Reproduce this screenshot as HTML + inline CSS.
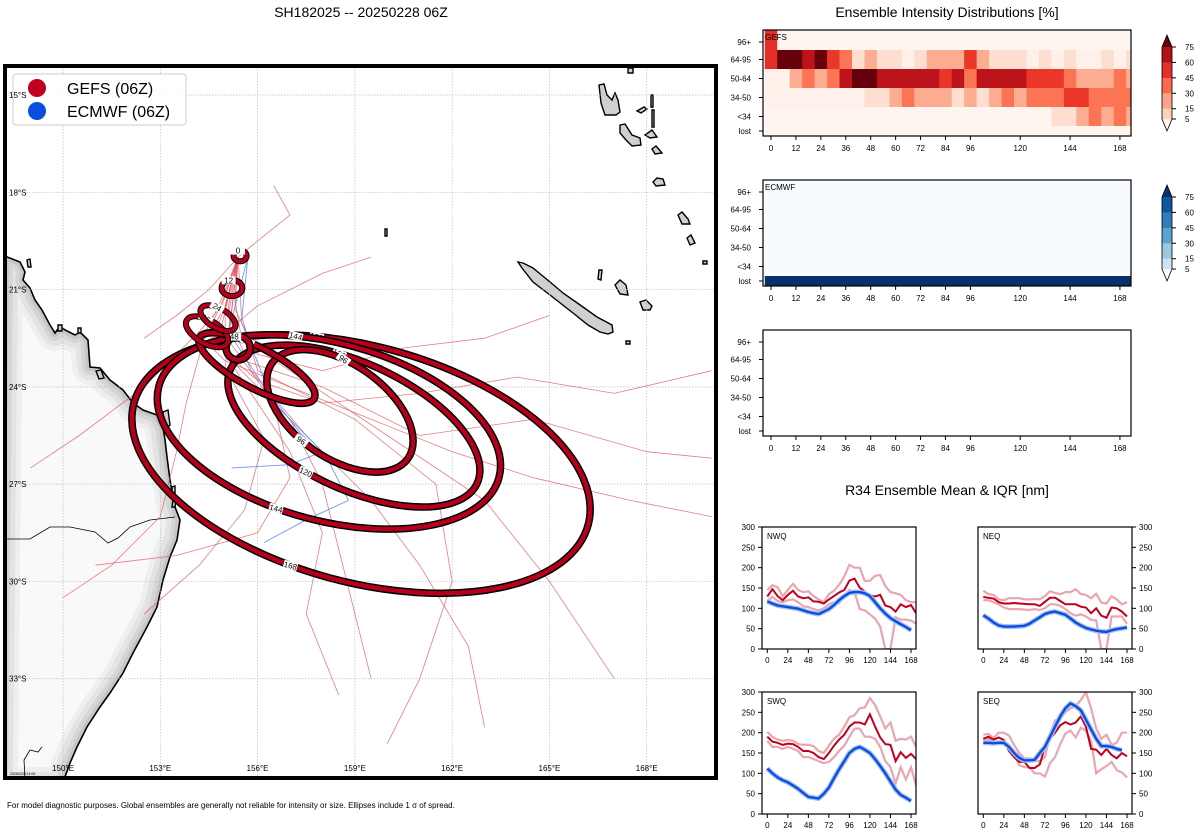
<!DOCTYPE html>
<html><head><meta charset="utf-8">
<style>
html,body{margin:0;padding:0;background:#fff;width:1200px;height:840px;overflow:hidden}
svg{display:block;font-family:"Liberation Sans","DejaVu Sans",sans-serif}
</style></head>
<body>
<svg id="fig" xmlns="http://www.w3.org/2000/svg" width="1200" height="840" viewBox="0 0 1200 840">
<text x="361" y="17" font-size="14" text-anchor="middle">SH182025 -- 20250228 06Z</text>
<text x="947" y="17" font-size="14" text-anchor="middle">Ensemble Intensity Distributions [%]</text>
<text x="947" y="495" font-size="14" text-anchor="middle">R34 Ensemble Mean &amp; IQR [nm]</text>
<text x="7" y="808" font-size="8">For model diagnostic purposes. Global ensembles are generally not reliable for intensity or size. Ellipses include 1 σ of spread.</text>
<g id="map"></g>
<g id="heat"></g>
<g id="r34"></g>
</svg>
<script>
// ---------------- DATA ----------------
const ellipseHours = [0,12,24,36,48,72,96,120,144,168];
const ellipseLon = [155.46,155.21,154.78,154.44,155.4,155.98,158.54,158.97,158.2,159.19];
const ellipseLat = [19.96,20.95,21.88,22.3,22.8,23.42,24.74,25.21,25.39,26.38];
const ellipseA = [0.2,0.32,0.6,0.72,0.37,2.0,2.56,4.19,5.43,7.25];
const ellipseB = [0.17,0.25,0.3,0.36,0.37,0.62,1.45,1.94,2.74,3.64];
const ellipseRot = [0,0,30,30,0,28,35,25,15,15];

const gefsTrackLon = [
 [155.4,154.8,154.3,155,157,159.5,162,164.5,167.5,170],
 [155.4,155,154.5,155.5,157,158,158.5,159,159.5],
 [155.4,155,154.6,156,158,161,164,167,170],
 [155.4,154.9,154.2,153.5,152.5,150.5,149],
 [155.4,155.1,155.8,157.5,159.5,161,162.5,163],
 [155.4,155.3,156,158,160.5,163,165],
 [155.4,154.9,154.3,153.8,153.5,153,151.5,150],
 [155.4,155.2,155,157,158,157.5,158.5],
 [155.4,155.3,155.5,157,160,163,165,167],
 [155.4,156,157,156.5],
 [155.4,154.5,153.5,152.5],
 [155.4,155.1,155.2,156.5,157,156,153.5,151],
 [155.4,155,155,158,161,164.5,168,170],
 [155.4,155.5,156,159,161.5,162,161,160],
 [155.4,154.8,156,158,159.5],
 [155.4,155.2,155,156.2,155.6,154.2,152.5]
];
const gefsTrackLat = [
 [20,21.5,22.5,23.2,24,25,26,26.8,27.5,28],
 [20,21.5,22.4,23.5,25,27,29,31,33],
 [20,21.5,22.6,23.8,24.5,24.2,23.7,24.2,23.5],
 [20,21.5,22.3,23,24,25.5,26.5],
 [20,21.8,23.5,25.5,27.5,29.5,32,34.5],
 [20,21.6,23,23.5,22.8,22.5,21.8],
 [20,21.4,22.7,24.5,26,28,29.5,30.5],
 [20,21.6,23,26,28.5,31,33.5],
 [20,21.3,22.5,23.5,25.5,27.5,30,33],
 [20,19.5,18.7,17.8],
 [20,21,21.8,22.5],
 [20,21.5,22.7,24.5,26.8,28.5,29.2,29.5],
 [20,21.6,23,24,25.5,25,26,26.2],
 [20,21.8,23.5,25,27,30,33,35],
 [20,22.5,21.5,20.5,20],
 [20,21.7,23.4,25.6,27.8,29.5,31]
];
const ecmwfTrackLon = [[155.7,155.1,156.2,157.3,158.2,158.8,157.5,156.2],[155.7,155.5,156.5,158,158.5],[155.2,157,158]];
const ecmwfTrackLat = [[20,22.3,24,25.4,26.3,27.5,28.1,28.8],[20,22,24.5,26,26.5],[26.5,26.4,26]];

const heatHours = [0,6,12,18,24,30,36,42,48,54,60,66,72,78,84,90,96,102,108,114,120,126,132,138,144,150,156,162,168,174];
const intensityCats = ["96+","64-95","50-64","34-50","<34","lost"];
const gefs96 = [50,0,0,0,0,0,0,0,0,0,0,0,0,0,0,0,0,0,0,0,0,0,0,0,0,0,0,0,0,0];
const gefs64 = [50,75,75,60,75,48,35,10,22,10,10,2,10,22,22,22,48,22,10,10,10,2,10,2,10,2,2,10,2,10];
const gefs50 = [2,2,22,35,22,35,60,75,75,60,60,60,60,60,48,60,35,60,60,60,60,48,48,48,35,22,22,22,35,22];
const gefs34 = [2,2,2,2,2,2,2,2,10,10,22,35,22,22,22,10,22,10,22,35,22,35,35,35,48,48,35,35,35,35];
const gefsLt34 = [0,0,0,0,0,0,0,0,0,0,0,0,0,0,0,0,0,0,0,0,0,0,0,10,10,22,35,22,35,22];
const gefsLost = [0,0,0,0,0,0,0,0,0,0,0,0,0,0,0,0,0,0,0,0,0,0,0,0,0,0,0,0,0,0];
const ecmwfLost = [100,100,100,100,100,100,100,100,100,100,100,100,100,100,100,100,100,100,100,100,100,100,100,100,100,100,100,100,100,100];
const heatTicks = [0,12,24,36,48,60,72,84,96,120,144,168];
const cbTicks = [75,60,45,30,15,5];

const r34Ticks = [0,24,48,72,96,120,144,168];
const r34YTicks = [0,50,100,150,200,250,300];
const nwqMean = [129,147,130,120,133,143,129,125,127,117,116,112,122,130,139,145,168,173,151,141,132,129,133,107,103,92,110,103,108,88];
const nwqHi = [145,157,152,130,145,160,145,140,142,130,122,115,135,143,158,178,207,200,200,167,168,180,182,155,140,137,133,120,115,115];
const nwqLo = [118,128,118,115,120,122,115,105,103,98,95,100,110,115,113,130,145,140,98,95,85,75,55,0,0,78,72,72,70,62];
const nwqEc = [117,112,107,105,103,101,99,95,91,88,86,92,98,108,120,130,138,140,140,137,130,115,100,87,76,68,61,54,46];
const neqMean = [128,126,124,115,112,112,113,112,111,110,110,106,116,126,126,118,110,110,110,104,102,88,100,82,77,102,100,92,80];
const neqHi = [143,135,133,122,120,125,125,125,122,122,123,122,130,142,138,135,140,140,147,135,133,125,136,114,112,130,122,110,115];
const neqLo = [120,120,115,110,102,98,98,98,97,96,98,96,100,110,110,106,98,88,82,85,80,72,70,0,0,80,80,80,62];
const neqEc = [83,75,65,58,55,55,55,56,57,62,70,78,86,90,92,88,84,75,65,58,52,48,45,43,42,46,49,51,53];
const swqMean = [190,178,175,170,173,172,165,155,155,150,140,135,150,168,183,195,215,225,225,220,245,215,188,172,170,130,152,138,148,135];
const swqHi = [202,190,183,180,182,180,172,170,170,167,155,150,168,185,195,215,238,243,260,262,285,268,240,210,225,180,185,183,190,165];
const swqLo = [180,165,165,160,165,160,155,140,140,135,130,125,128,140,155,168,190,210,210,190,190,185,165,130,115,75,115,85,115,70];
const swqEc = [112,100,90,83,78,70,62,52,42,40,38,50,65,88,110,130,150,160,165,158,150,135,118,100,80,60,47,40,32];
const seqMean = [185,190,183,188,182,155,140,128,128,113,113,122,165,185,200,218,226,220,225,240,215,160,158,145,160,145,137,150,142];
const seqHi = [195,197,187,200,200,193,170,150,137,137,130,130,140,195,230,235,250,260,265,280,300,260,210,185,195,170,175,200,200];
const seqLo = [180,185,175,175,180,170,150,120,115,115,100,100,92,125,140,172,198,205,188,212,205,180,100,110,118,128,108,102,90];
const seqEc = [175,175,174,175,175,165,150,138,132,132,133,150,165,190,215,240,260,272,265,255,232,208,185,167,167,165,160,157];

// ---------------- HELPERS ----------------
const NS="http://www.w3.org/2000/svg";
function mk(tag,attrs,parent){const e=document.createElementNS(NS,tag);for(const k in attrs)e.setAttribute(k,attrs[k]);if(parent)parent.appendChild(e);return e;}
function txt(s,attrs,parent){const e=mk('text',attrs,parent);e.textContent=s;return e;}

// ---------------- MAP ----------------
const map=document.getElementById('map');
const MX0=5,MY0=66,MX1=716,MY1=778;
const lonX=lon=>63+(lon-150)*32.43;
const latY=lat=>95+(lat-15)*32.43;
const degPx=32.43;
const defs=mk('defs',{},map);
const cp=mk('clipPath',{id:'mapclip'},defs);
mk('rect',{x:MX0,y:MY0,width:MX1-MX0,height:MY1-MY0},cp);
const landD="M5,255 L7,257 L20,262 L25,272 L23,280 L30,288 L35,300 L42,310 L50,325 L55,333 L60,326 L65,330 L75,335 L80,332 L88,340 L90,367 L100,368 L110,380 L123,390 L133,403 L143,410 L157,415 L163,427 L165,440 L167,457 L170,480 L175,507 L180,520 L177,540 L170,557 L163,580 L157,607 L147,627 L133,653 L123,673 L110,693 L100,707 L87,727 L77,747 L70,763 L62,785 L0,785 Z";
const lc=mk('clipPath',{id:'landclip'},defs);
mk('path',{d:landD},lc);
const mg=mk('g',{'clip-path':'url(#mapclip)'},map);
mk('rect',{x:MX0,y:MY0,width:MX1-MX0,height:MY1-MY0,fill:'#fff'},mg);
const land=mk('g',{'clip-path':'url(#landclip)'},mg);


mk('path',{d:landD,fill:'#f9f9f9'},land);
[[36,'#efefef'],[26,'#e3e3e3'],[16,'#d5d5d5'],[8,'#c6c6c6']].forEach(([w,c])=>mk('path',{d:landD,fill:'none',stroke:c,'stroke-width':w,'stroke-linejoin':'round'},land));
mk('path',{d:landD,fill:'none',stroke:'#000','stroke-width':1.6},mg);
mk('path',{d:"M5,539 L30,539 L50,527 L70,527 L95,532 L108,543 L118,538 L130,527 L150,520 L175,517",fill:'none',stroke:'#000','stroke-width':0.8},mg);
mk('path',{d:"M25,778 L24,760 L30,750 L38,752 L42,747",fill:'none',stroke:'#000','stroke-width':0.8},mg);
// islands
const islands=["M599,85 L604,84 L607,95 L612,100 L615,93 L618,100 L620,112 L616,115 L605,115 L601,103 Z",
"M620,125 L625,124 L632,135 L640,138 L641,145 L632,146 L626,140 L620,133 Z",
"M637,111 L644,107 L647,109 L641,113 Z","M651,95 L653,95 L653,107 L651,107 Z","M652,110 L654,110 L654,127 L652,127 Z",
"M645,135 L652,130 L657,137 L650,138 Z","M652,149 L656,146 L662,153 L655,154 Z","M653,182 L657,178 L663,179 L665,185 L656,186 Z",
"M678,215 L682,212 L688,219 L690,224 L682,224 Z","M687,238 L691,235 L695,243 L690,245 Z","M628,68 L633,68 L633,73 L628,73 Z",
"M518,262 L523,263 L533,268 L550,282 L563,293 L583,307 L597,317 L612,325 L613,332 L608,334 L600,332 L588,325 L573,313 L550,295 L533,282 L522,268 Z",
"M599,270 L602,270 L601,280 L598,279 Z","M615,285 L620,280 L626,285 L628,295 L620,294 Z","M640,302 L646,300 L652,306 L650,310 L643,310 Z",
"M626,341 L630,341 L630,344 L626,344 Z","M703,261 L707,261 L707,264 L703,264 Z","M385,229 L387,229 L387,236 L385,236 Z",
"M27,260 L30,259 L31,267 L28,267 Z","M58,325 L62,325 L62,331 L58,331 Z","M78,328 L81,328 L81,333 L78,333 Z",
"M96,371 L101,370 L104,378 L99,379 Z","M163,412 L168,410 L170,425 L164,431 Z","M172,487 L175,486 L175,497 L172,497 Z","M173,500 L176,499 L175,507 L172,507 Z"];
islands.forEach(d=>{const p=mk('path',{d,fill:'#d0d0d0',stroke:'#000','stroke-width':1.4},mg);

});
// grid
const gridLons=[150,153,156,159,162,165,168];
const gridLats=[15,18,21,24,27,30,33];
gridLons.forEach(l=>mk('line',{x1:lonX(l),x2:lonX(l),y1:MY0,y2:MY1,stroke:'#bbb','stroke-width':0.7,'stroke-dasharray':'1.5,1.5'},mg));
gridLats.forEach(l=>mk('line',{x1:MX0,x2:MX1,y1:latY(l),y2:latY(l),stroke:'#bbb','stroke-width':0.7,'stroke-dasharray':'1.5,1.5'},mg));
// tracks
const lineStr=(lons,lats)=>lons.map((l,i)=>lonX(l).toFixed(1)+','+latY(lats[i]).toFixed(1)).join(' ');
gefsTrackLon.forEach((lons,i)=>{const p=mk('polyline',{points:lineStr(lons,gefsTrackLat[i]),fill:'none',stroke:'#e0505f','stroke-width':0.8,'stroke-opacity':0.75},mg);

});
ecmwfTrackLon.forEach((lons,i)=>{const p=mk('polyline',{points:lineStr(lons,ecmwfTrackLat[i]),fill:'none',stroke:'#5a86ee','stroke-width':0.9,'stroke-opacity':0.85},mg);

});
// ellipses (draw largest first)
for(let i=ellipseHours.length-1;i>=0;i--){
  const cx=lonX(ellipseLon[i]),cy=latY(ellipseLat[i]),a=ellipseA[i]*degPx,b=ellipseB[i]*degPx;
  const g=mk('g',{transform:`rotate(${ellipseRot[i]} ${cx} ${cy})`},mg);
  
  
  const big=ellipseHours[i]>=48;
  mk('ellipse',{cx,cy,rx:a,ry:b,fill:'none',stroke:'#000','stroke-width':big?7.5:6},g);
  mk('ellipse',{cx,cy,rx:a,ry:b,fill:'none',stroke:'#b5001c','stroke-width':big?4.5:4},g);
  const pts = ellipseHours[i]>=96 ? [-1.9, 1.75] : [-1.9];
  pts.forEach(t=>{
    const lx=cx+a*Math.cos(t), ly=cy+b*Math.sin(t);
    const tg=mk('g',{transform:`translate(${lx} ${ly})`},g);
    mk('rect',{x:-7,y:-4,width:14,height:8,fill:'#fff'},tg);
    const tt=txt(String(ellipseHours[i]),{x:0,y:3,'font-size':8,'text-anchor':'middle'},tg);
    
    
  });
}
txt('20250228 14:06',{x:10,y:775,'font-size':3.5},mg);
mk('rect',{x:MX0,y:MY0,width:MX1-MX0,height:MY1-MY0,fill:'none',stroke:'#000','stroke-width':4},map);
// legend
const lg=mk('g',{},map);


mk('rect',{x:13,y:74,width:173,height:51,rx:3,fill:'#fff','fill-opacity':0.85,stroke:'#ccc'},lg);
const le1=mk('circle',{cx:37,cy:88,r:9,fill:'#c0001c'},lg);


txt('GEFS (06Z)',{x:67,y:94,'font-size':16},lg);
const le2=mk('circle',{cx:37,cy:111,r:9,fill:'#0a4ee0'},lg);


txt('ECMWF (06Z)',{x:67,y:117,'font-size':16},lg);
// axis labels (on top)
gridLats.forEach(l=>{const t=txt(l+'°S',{x:9,y:latY(l)+3,'font-size':8},map);

});
gridLons.forEach(l=>{const t=txt(l+'°E',{x:lonX(l),y:771,'font-size':8,'text-anchor':'middle'},map);

});

// ---------------- HEATMAPS ----------------
const heat=document.getElementById('heat');
const HX0=763,HX1=1131;
const hX=t=>771+t*2.077;
const rowEdges=[0,20,39,58,77,96,106];
const redStops=['#fff5f0','#fee0d2','#fcbba1','#fc9272','#fb6a4a','#ef3b2c','#cb181d','#a50f15','#67000d'];
function hex2rgb(h){return [1,3,5].map(i=>parseInt(h.substr(i,2),16));}
function reds(v){let f=Math.max(0,Math.min(1,v/75))*8;const i=Math.min(7,Math.floor(f)),r=f-i;const a=hex2rgb(redStops[i]),b=hex2rgb(redStops[i+1]);return 'rgb('+a.map((c,k)=>Math.round(c+(b[k]-c)*r)).join(',')+')';}
function blues(v){return v>50?'#08306b':'#f7fbff';}
const gefsRows=[gefs96,gefs64,gefs50,gefs34,gefsLt34,gefsLost];
const ecRows=[gefsLost,gefsLost,gefsLost,gefsLost,gefsLost,ecmwfLost];
function heatPanel(top,rows,cmap,label,name){
  const g=mk('g',{},heat);
  
  
  const cid='hc'+top;
  const c=mk('clipPath',{id:cid},defs);mk('rect',{x:HX0,y:top,width:HX1-HX0,height:106},c);
  const cg=mk('g',{'clip-path':`url(#${cid})`},g);
  if(rows){
    rows.forEach((row,r)=>row.forEach((v,j)=>{
      const x0=hX(heatHours[j]-3),x1=hX(heatHours[j]+3);
      const cell=mk('rect',{x:x0,y:top+rowEdges[r],width:x1-x0+0.4,height:rowEdges[r+1]-rowEdges[r]+0.4,fill:cmap(v)},cg);
      
      
    }));
  }
  mk('rect',{x:HX0,y:top,width:HX1-HX0,height:106,fill:'none',stroke:'#000','stroke-width':1.2},g);
  if(label) txt(label,{x:765,y:top+10,'font-size':8},g);
  intensityCats.forEach((cat,r)=>{
    const yc=top+(r<5?(rowEdges[r]+rowEdges[r+1])/2+ (r===0?2:0):101);
    mk('line',{x1:HX0-4,x2:HX0,y1:yc,y2:yc,stroke:'#000'},g);
    txt(cat,{x:751,y:yc+3,'font-size':8,'text-anchor':'end'},g);
  });
  heatTicks.forEach(t=>{
    mk('line',{x1:hX(t),x2:hX(t),y1:top+106,y2:top+110,stroke:'#000'},g);
    txt(String(t),{x:hX(t),y:top+121,'font-size':8,'text-anchor':'middle'},g);
  });
}
heatPanel(30,gefsRows,reds,'GEFS','gefs-heatmap');
heatPanel(180,ecRows,blues,'ECMWF','ecmwf-heatmap');
heatPanel(330,null,null,'','empty-heatmap');
function colorbar(top,cols,tipTop,tipBot,name){
  const g=mk('g',{},heat);
  
  
  const x0=1162,x1=1172,y0=top+12,y1=top+84;
  mk('path',{d:`M${x0},${y0} L${(x0+x1)/2},${top} L${x1},${y0} Z`,fill:tipTop},g);
  mk('path',{d:`M${x0},${y1} L${(x0+x1)/2},${top+96} L${x1},${y1} Z`,fill:tipBot},g);
  const cy=v=>y1-(v-5)/70*(y1-y0);
  const bnd=[75,60,45,30,15,5];
  for(let i=0;i<5;i++) mk('rect',{x:x0,y:cy(bnd[i]),width:x1-x0,height:cy(bnd[i+1])-cy(bnd[i])+0.3,fill:cols[i]},g);
  mk('path',{d:`M${x0},${y0} L${(x0+x1)/2},${top} L${x1},${y0} L${x1},${y1} L${(x0+x1)/2},${top+96} L${x0},${y1} Z`,fill:'none',stroke:'#000','stroke-width':0.8},g);
  cbTicks.forEach(v=>{mk('line',{x1:x1,x2:x1+4,y1:cy(v),y2:cy(v),stroke:'#000'},g);
  txt(String(v),{x:1185,y:cy(v)+3,'font-size':8},g);});
}
colorbar(35,['#b11218','#e32f27','#fb6a4a','#fca487','#fdd0bc'],'#67000d','#fff5f0','gefs-colorbar');
colorbar(185,['#0d58a1','#2e7ebc','#5ba3d0','#9dc9e0','#d0e1f2'],'#08306b','#f7fbff','ecmwf-colorbar');

// ---------------- R34 ----------------
const r34=document.getElementById('r34');
function r34Panel(px,py,label,mean,hi,lo,ec,rightAxis,name){
  const g=mk('g',{},r34);
  
  
  const W=154,H=122;
  const sx=t=>px+5.3+t*(143.7/168);
  const sy=v=>py+H-v/300*H;
  const cid='rc'+px+'_'+py;
  const c=mk('clipPath',{id:cid},defs);mk('rect',{x:px,y:py,width:W,height:H},c);
  const cg=mk('g',{'clip-path':`url(#${cid})`},g);
  const pts=arr=>arr.map((v,i)=>sx(i*6).toFixed(1)+','+sy(v).toFixed(1)).join(' ');
  const l1=mk('polyline',{points:pts(hi),fill:'none',stroke:'#e8a6b0','stroke-width':2.2},cg);
  
  
  const l2=mk('polyline',{points:pts(lo),fill:'none',stroke:'#e8a6b0','stroke-width':2.2},cg);
  
  
  const l3=mk('polyline',{points:pts(mean),fill:'none',stroke:'#c0001c','stroke-width':2},cg);
  
  
  mk('polyline',{points:pts(ec),fill:'none',stroke:'#a8c0f0','stroke-width':5,'stroke-linejoin':'round'},cg);
  const l4=mk('polyline',{points:pts(ec),fill:'none',stroke:'#0a4ee0','stroke-width':2.4,'stroke-linejoin':'round'},cg);
  
  
  mk('rect',{x:px,y:py,width:W,height:H,fill:'none',stroke:'#000','stroke-width':1.2},g);
  txt(label,{x:px+5,y:py+12,'font-size':8},g);
  r34YTicks.forEach(v=>{
    if(rightAxis){mk('line',{x1:px+W,x2:px+W+4,y1:sy(v),y2:sy(v),stroke:'#000'},g);txt(String(v),{x:px+W+7,y:sy(v)+3,'font-size':8},g);}
    else{mk('line',{x1:px-4,x2:px,y1:sy(v),y2:sy(v),stroke:'#000'},g);txt(String(v),{x:px-7,y:sy(v)+3,'font-size':8,'text-anchor':'end'},g);}
  });
  r34Ticks.forEach(t=>{mk('line',{x1:sx(t),x2:sx(t),y1:py+H,y2:py+H+4,stroke:'#000'},g);
  txt(String(t),{x:sx(t),y:py+H+14,'font-size':8,'text-anchor':'middle'},g);});
}
r34Panel(762,527,'NWQ',nwqMean,nwqHi,nwqLo,nwqEc,false,'nwq-panel');
r34Panel(978,527,'NEQ',neqMean,neqHi,neqLo,neqEc,true,'neq-panel');
r34Panel(762,692,'SWQ',swqMean,swqHi,swqLo,swqEc,false,'swq-panel');
r34Panel(978,692,'SEQ',seqMean,seqHi,seqLo,seqEc,true,'seq-panel');
</script>
</body></html>
